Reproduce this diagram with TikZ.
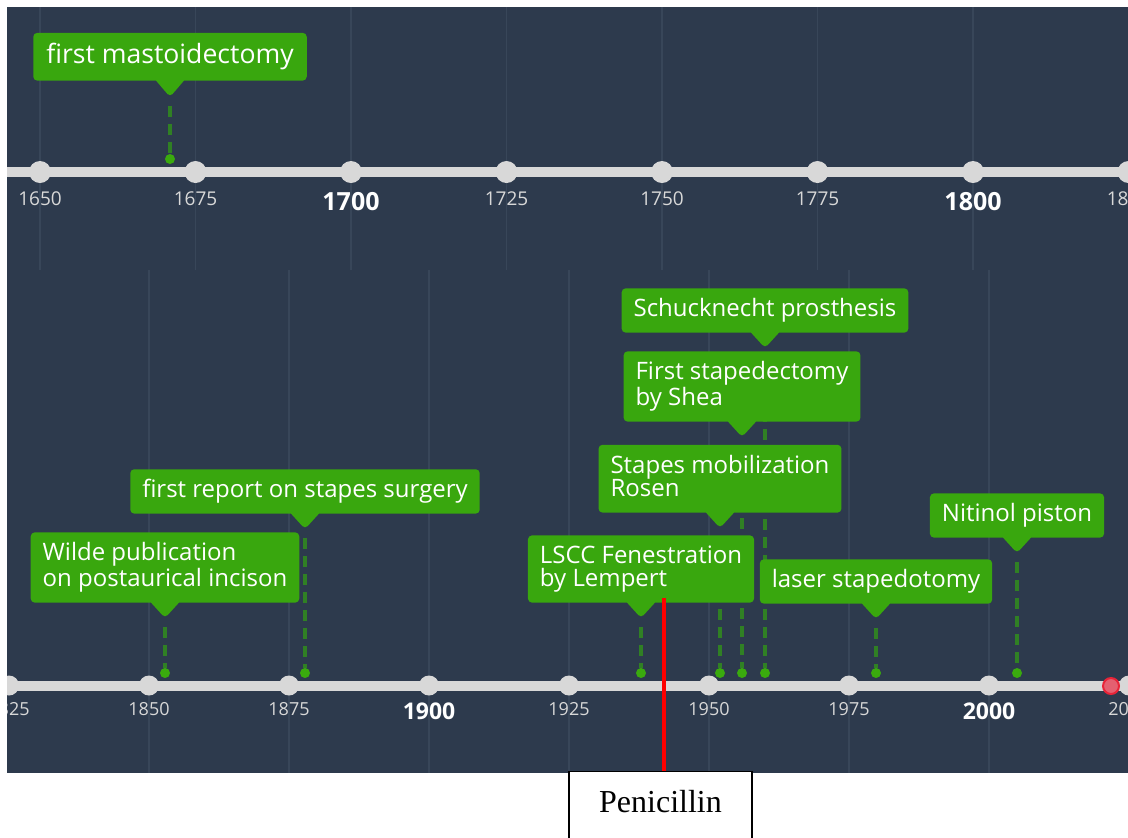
\documentclass[tikz,border=0pt]{standalone}
\usepackage{fontspec}
\newfontfamily\tlfont{Open Sans}
\newfontfamily\penfont{Liberation Serif}
\usetikzlibrary{shapes.callouts}
\definecolor{panelbg}{RGB}{45,58,77}
\definecolor{gridln}{RGB}{56,70,89}
\definecolor{axisgray}{RGB}{216,216,216}
\definecolor{boxgreen}{RGB}{57,167,14}
\definecolor{dashgreen}{RGB}{48,128,36}
\definecolor{dotgreen}{RGB}{58,170,14}
\definecolor{nowred}{RGB}{232,36,56}
\definecolor{nowfill}{RGB}{228,96,112}
\newcommand\evstrut{\vrule width 0pt height 9pt depth 3pt}
\newcommand\bigstrut{\vrule width 0pt height 10pt depth 3.3pt}

\begin{document}
\begin{tikzpicture}[x=0.5pt,y=-0.5pt,
  event/.style={rectangle callout,fill=boxgreen,text=white,rounded corners=2pt,
    callout pointer width=14pt,align=left,anchor=south,inner xsep=6pt,inner ysep=5pt,
    execute at begin node=\evstrut,execute at end node=\evstrut,
    font=\tlfont\fontsize{12}{11.8}\selectfont},
  bigevent/.style={event,inner xsep=6.5pt,inner ysep=5.2pt,
    execute at begin node=\bigstrut,execute at end node=\bigstrut,
    font=\tlfont\fontsize{13.3}{13}\selectfont},
  tick/.style={circle,fill=axisgray,inner sep=0pt,minimum size=10pt},
  bigtick/.style={tick,minimum size=11pt},
  spot/.style={circle,fill=dotgreen,inner sep=0pt,minimum size=5pt},
  stem/.style={dashgreen,line width=1.75pt,dash pattern=on 5.5pt off 3.5pt},
  yr/.style={text=axisgray,anchor=base,inner sep=0pt,font=\tlfont\fontsize{9}{10}\selectfont},
  yrbold/.style={yr,text=white,font=\tlfont\bfseries\fontsize{11.5}{12}\selectfont},
  topyr/.style={yr,font=\tlfont\fontsize{9.5}{10}\selectfont},
  topyrbold/.style={yrbold,font=\tlfont\bfseries\fontsize{12.5}{13}\selectfont},
  grid/.style={gridln,line width=0.6pt},
  axis/.style={axisgray,line width=5pt},
  penline/.style={red,line width=2pt}]
  \fill[white] (0,0) rectangle (1128,837);
  \useasboundingbox (0,0) rectangle (1128,837);

  \begin{scope}
  \clip (7,7) rectangle (1128,773);
  \fill[panelbg] (7,7) rectangle (1128,773);

  \draw[grid] (40,7) -- (40,270) (195.5,7) -- (195.5,270) (351,7) -- (351,270)
    (506.5,7) -- (506.5,270) (662,7) -- (662,270) (817.5,7) -- (817.5,270)
    (973,7) -- (973,270);
  \draw[grid] (149,270) -- (149,773) (289,270) -- (289,773) (429,270) -- (429,773)
    (569,270) -- (569,773) (709,270) -- (709,773) (849,270) -- (849,773)
    (989,270) -- (989,773);

  \draw[axis] (7,172) -- (1128,172);
  \node[bigtick] (t1650) at (40,172) {};     \node[topyr] (y1650) at (40,205) {1650};
  \node[bigtick] (t1675) at (195.5,172) {};  \node[topyr] (y1675) at (195.5,205) {1675};
  \node[bigtick] (t1700) at (351,172) {};    \node[topyrbold] (y1700) at (351,210) {1700};
  \node[bigtick] (t1725) at (506.5,172) {};  \node[topyr] (y1725) at (506.5,205) {1725};
  \node[bigtick] (t1750) at (662,172) {};    \node[topyr] (y1750) at (662,205) {1750};
  \node[bigtick] (t1775) at (817.5,172) {};  \node[topyr] (y1775) at (817.5,205) {1775};
  \node[bigtick] (t1800) at (973,172) {};    \node[topyrbold] (y1800) at (973,210) {1800};
  \node[bigtick] (t1825) at (1128.5,172) {}; \node[topyr] (y1825) at (1128.5,205) {1825};

  \draw[axis] (7,685.5) -- (1128,685.5);
  \node[tick] (b1825) at (9,685.5) {};    \node[yr] (z1825) at (9,715) {1825};
  \node[tick] (b1850) at (149,685.5) {};  \node[yr] (z1850) at (149,715) {1850};
  \node[tick] (b1875) at (289,685.5) {};  \node[yr] (z1875) at (289,715) {1875};
  \node[tick] (b1900) at (429,685.5) {};  \node[yrbold] (z1900) at (429,719) {1900};
  \node[tick] (b1925) at (569,685.5) {};  \node[yr] (z1925) at (569,715) {1925};
  \node[tick] (b1950) at (709,685.5) {};  \node[yr] (z1950) at (709,715) {1950};
  \node[tick] (b1975) at (849,685.5) {};  \node[yr] (z1975) at (849,715) {1975};
  \node[tick] (b2000) at (989,685.5) {};  \node[yrbold] (z2000) at (989,719) {2000};
  \node[tick] (b2025) at (1129,685.5) {}; \node[yr] (z2025) at (1129,715) {2025};
  \node[circle,draw=nowred,line width=1pt,fill=nowfill,inner sep=0pt,minimum size=8pt] (today) at (1111,686) {};

  \coordinate (tMast) at (170,97);
  \coordinate (tWilde) at (165,618);
  \coordinate (tReport) at (305,529);
  \coordinate (tLscc) at (641,618);
  \coordinate (tRosen) at (720,528);
  \coordinate (tShea) at (742,437);
  \coordinate (tSchuck) at (765,348);
  \coordinate (tLaser) at (876,619);
  \coordinate (tNitinol) at (1017,553);

  \node[spot] (dMast) at (170,159) {};
  \node[spot] (dWilde) at (165,673) {};
  \node[spot] (dReport) at (305,673) {};
  \node[spot] (dLscc) at (641,673) {};
  \node[spot] (dRosen) at (720,673) {};
  \node[spot] (dShea) at (742,673) {};
  \node[spot] (dSchuck) at (765,673) {};
  \node[spot] (dLaser) at (876,673) {};
  \node[spot] (dNitinol) at (1017,673) {};

  \draw[stem] (tMast) ++(0,9) -- (dMast.north);
  \draw[stem] (tWilde) ++(0,9) -- (dWilde.north);
  \draw[stem] (tReport) ++(0,9) -- (dReport.north);
  \draw[stem] (tLscc) ++(0,9) -- (dLscc.north);
  \draw[stem] (tRosen) ++(0,9) -- (dRosen.north);
  \draw[stem] (tShea) ++(0,9) -- (dShea.north);
  \draw[stem] (tSchuck) ++(0,9) -- (dSchuck.north);
  \draw[stem] (tLaser) ++(0,9) -- (dLaser.north);
  \draw[stem] (tNitinol) ++(0,9) -- (dNitinol.north);

  \node[bigevent,callout absolute pointer={(tMast)}] (mast) at (170,81) {first mastoidectomy};
  \node[event,callout absolute pointer={(tWilde)}] (wilde) at (165,603) {Wilde publication\\on postaurical incison};
  \node[event,callout absolute pointer={(tReport)}] (report) at (305,514) {first report on stapes surgery};
  \node[event,callout absolute pointer={(tLscc)}] (lscc) at (641,603) {LSCC Fenestration\\by Lempert};
  \node[event,callout absolute pointer={(tRosen)}] (rosen) at (720,513) {Stapes mobilization\\Rosen};
  \node[event,callout absolute pointer={(tShea)}] (shea) at (742,422) {First stapedectomy\\by Shea};
  \node[event,callout absolute pointer={(tSchuck)}] (schuck) at (765,333) {Schucknecht prosthesis};
  \node[event,callout absolute pointer={(tLaser)}] (laser) at (876,604) {laser stapedotomy};
  \node[event,callout absolute pointer={(tNitinol)}] (nitinol) at (1017,538) {Nitinol piston};
  \end{scope}

  \node[draw=black,line width=0.7pt,fill=white,anchor=north,minimum width=91.5pt,
    inner ysep=9.5pt,text height=11pt,text depth=22pt,font=\penfont\fontsize{16}{18}\selectfont] (peni) at (660.5,771) {Penicillin};
  \coordinate (pTop) at (664,598);
  \draw[penline] (pTop) -- (pTop |- peni.north);
\end{tikzpicture}
\end{document}
